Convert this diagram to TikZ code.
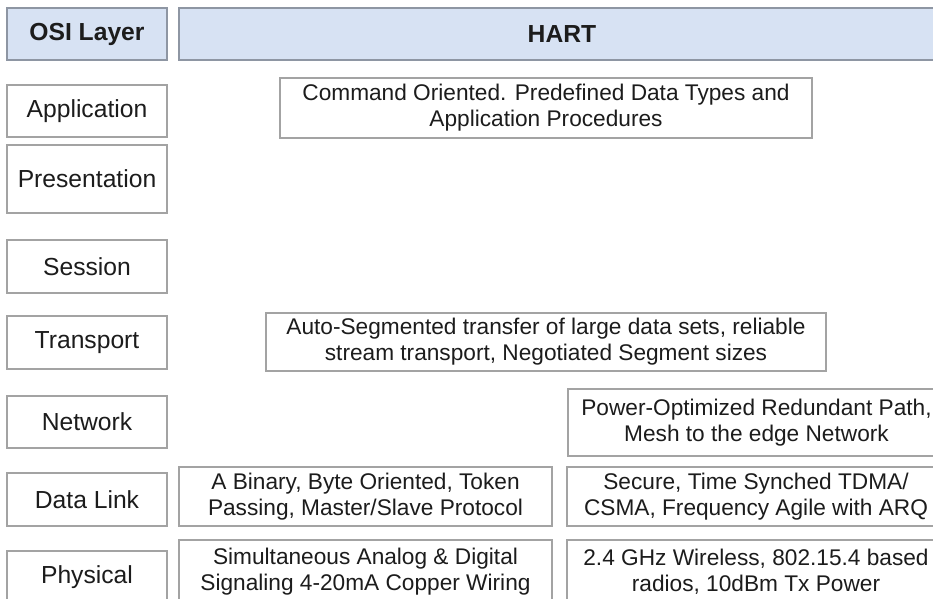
\documentclass[tikz,border=0pt]{standalone}
\usepackage{fontspec}
\setmainfont{Liberation Sans}

\definecolor{boxline}{HTML}{A3A3A3}
\definecolor{headfill}{HTML}{D7E2F3}
\definecolor{headline}{HTML}{8E96A3}
\definecolor{txt}{HTML}{1C1C1C}

\tikzset{
  layer/.style={draw=boxline, line width=0.9pt, fill=white, inner sep=0pt,
    minimum width=120pt, text=txt, font=\fontsize{18.5}{21}\selectfont},
  head/.style={layer, draw=headline, fill=headfill,
    font=\bfseries\fontsize{18.5}{21}\selectfont},
  hart/.style={draw=boxline, line width=0.9pt, fill=white, inner sep=0pt,
    align=center, text=txt, font=\fontsize{17}{19.5}\selectfont},
}

\begin{document}
\begin{tikzpicture}[x=0.75pt,y=-0.75pt]
        \clip (0,0) rectangle (933,599);
        \fill[white] (0,0) rectangle (933,599);
        % headers
        \node[head, minimum height=39pt] (osi) at (87,34) {OSI Layer};
        \node[head, minimum width=574.5pt, minimum height=39pt] (hart) at (562,34) {HART};
        % OSI layers
        \foreach \nm/\lbl/\yc/\h in {app/Application/111/39pt,
                pres/Presentation/179/51pt, sess/Session/266.5/39.75pt,
                trans/Transport/342.5/39.75pt, net/Network/422/39pt,
                link/Data Link/499.5/39.75pt, phys/Physical/577.5/39.75pt}
        \node[layer, minimum height=\h] (\nm) at (87,\yc) {\lbl};
        % HART boxes
        \node[hart, minimum width=399pt, minimum height=45pt] (cmd) at (546,108)
        {Command Oriented. Predefined Data Types and\\Application Procedures};
        \node[hart, minimum width=420pt, minimum height=43.5pt] (seg) at (546,342)
        {Auto-Segmented transfer of large data sets, reliable\\stream transport, Negotiated Segment sizes};
        \node[hart, minimum width=282.75pt, minimum height=50.25pt] (mesh) at (756.5,422.5)
        {Power-Optimized Redundant Path,\\Mesh to the edge Network};
        \node[hart, minimum width=279.75pt, minimum height=44.25pt] (token) at (365.5,496.5)
        {A Binary, Byte Oriented, Token\\Passing, Master/Slave Protocol};
        \node[hart, minimum width=283.5pt, minimum height=44.25pt] (tdma) at (756,496.5)
        {Secure, Time Synched TDMA/\\CSMA, Frequency Agile with ARQ};
        \node[hart, minimum width=279.75pt, minimum height=48pt] (wire) at (365.5,572)
        {Simultaneous Analog \& Digital\\Signaling 4-20mA Copper Wiring};
        \node[hart, minimum width=283.5pt, minimum height=48pt] (radio) at (756,572)
        {2.4 GHz Wireless, 802.15.4 based\\radios, 10dBm Tx Power};
\end{tikzpicture}
\end{document}
